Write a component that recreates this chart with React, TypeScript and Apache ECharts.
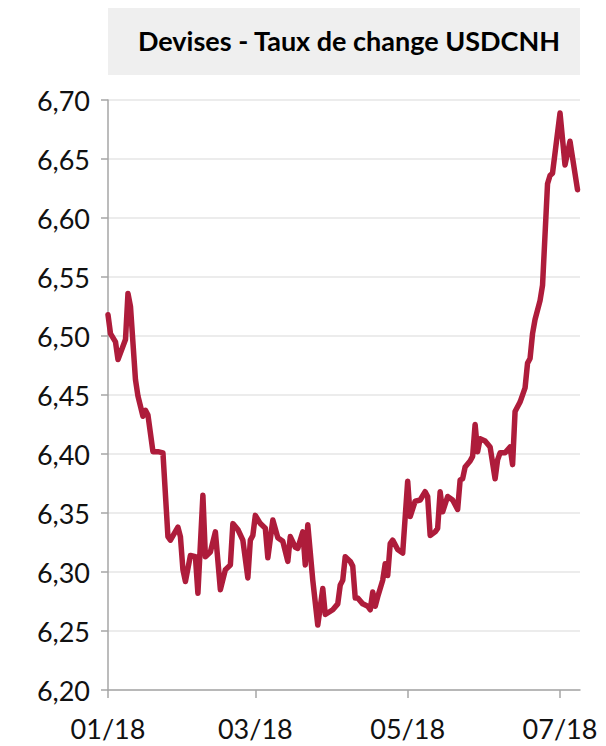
import React, { useEffect, useRef } from "react";
import * as echarts from "echarts";

const titleText = "Devises - Taux de change USDCNH";

const dates: string[] = [
  "2018-01-01", "2018-01-02", "2018-01-04", "2018-01-05", "2018-01-08", "2018-01-09", "2018-01-10",
  "2018-01-12", "2018-01-13", "2018-01-15", "2018-01-16", "2018-01-17", "2018-01-19", "2018-01-21",
  "2018-01-23", "2018-01-25", "2018-01-26", "2018-01-29", "2018-01-30", "2018-01-31", "2018-02-01",
  "2018-02-03", "2018-02-05", "2018-02-06", "2018-02-08", "2018-02-09", "2018-02-11", "2018-02-13",
  "2018-02-15", "2018-02-17", "2018-02-19", "2018-02-20", "2018-02-22", "2018-02-24", "2018-02-26",
  "2018-02-27", "2018-02-28", "2018-03-01", "2018-03-03", "2018-03-05", "2018-03-06", "2018-03-08",
  "2018-03-10", "2018-03-12", "2018-03-14", "2018-03-15", "2018-03-17", "2018-03-18", "2018-03-20",
  "2018-03-21", "2018-03-22", "2018-03-24", "2018-03-26", "2018-03-28", "2018-03-29", "2018-04-01",
  "2018-04-03", "2018-04-04", "2018-04-05", "2018-04-06", "2018-04-08", "2018-04-09", "2018-04-10",
  "2018-04-11", "2018-04-13", "2018-04-15", "2018-04-16", "2018-04-17", "2018-04-18", "2018-04-19",
  "2018-04-21", "2018-04-22", "2018-04-23", "2018-04-24", "2018-04-25", "2018-04-27", "2018-04-29",
  "2018-05-01", "2018-05-02", "2018-05-04", "2018-05-06", "2018-05-08", "2018-05-09", "2018-05-10",
  "2018-05-12", "2018-05-13", "2018-05-14", "2018-05-15", "2018-05-17", "2018-05-19", "2018-05-21",
  "2018-05-22", "2018-05-23", "2018-05-24", "2018-05-26", "2018-05-27", "2018-05-28", "2018-05-29",
  "2018-05-30", "2018-06-01", "2018-06-03", "2018-06-05", "2018-06-06", "2018-06-07", "2018-06-09",
  "2018-06-11", "2018-06-12", "2018-06-13", "2018-06-15", "2018-06-17", "2018-06-18", "2018-06-19",
  "2018-06-20", "2018-06-21", "2018-06-23", "2018-06-24", "2018-06-26", "2018-06-27", "2018-06-28",
  "2018-07-01", "2018-07-03", "2018-07-05", "2018-07-08",
];

const usdcnh: number[] = [
  6.518, 6.502, 6.495, 6.48, 6.497, 6.536, 6.525,
  6.463, 6.449, 6.432, 6.437, 6.433, 6.402, 6.402,
  6.401, 6.33, 6.327, 6.338, 6.33, 6.302, 6.292,
  6.314, 6.313, 6.282, 6.365, 6.313, 6.317, 6.334,
  6.285, 6.302, 6.306, 6.341, 6.336, 6.327, 6.295,
  6.327, 6.331, 6.348, 6.341, 6.337, 6.312, 6.344,
  6.329, 6.326, 6.309, 6.33, 6.321, 6.32, 6.334,
  6.306, 6.34, 6.293, 6.255, 6.286, 6.264, 6.268,
  6.273, 6.289, 6.293, 6.313, 6.309, 6.305, 6.278,
  6.278, 6.273, 6.271, 6.268, 6.283, 6.271, 6.279,
  6.293, 6.307, 6.297, 6.324, 6.327, 6.319, 6.316,
  6.377, 6.347, 6.36, 6.361, 6.368, 6.364, 6.331,
  6.334, 6.337, 6.368, 6.351, 6.364, 6.361, 6.353,
  6.378, 6.379, 6.389, 6.394, 6.398, 6.425, 6.402,
  6.413, 6.411, 6.406, 6.379, 6.395, 6.401, 6.401,
  6.406, 6.391, 6.436, 6.444, 6.456, 6.477, 6.481,
  6.502, 6.514, 6.53, 6.543, 6.629, 6.636, 6.638,
  6.689, 6.645, 6.665, 6.624,
];

const xTickDates: string[] = ["2018-01-01", "2018-03-01", "2018-05-01", "2018-07-01"];
const xMinDate = "2018-01-01";
const xMaxDate = "2018-07-09";
const yMin = 6.2;
const yMax = 6.7;
const yStep = 0.05;

function ts(s: string): number {
  const [y, m, d] = s.split("-").map(Number);
  return new Date(y, m - 1, d).getTime();
}

export default function App() {
  const ref = useRef<HTMLDivElement>(null);
  useEffect(() => {
    if (!ref.current) return;
    const chart = echarts.init(ref.current, null, { renderer: "svg" });
    const font = "Lato";
    const tickVals = xTickDates.map(ts);
    chart.setOption({
      animation: false,
      backgroundColor: "#ffffff",
      graphic: [
        {
          type: "rect",
          left: 108,
          top: 8,
          z: -10,
          shape: { width: 472, height: 67 },
          style: { fill: "#efefef" },
        },
      ],
      title: {
        text: titleText,
        left: 344,
        top: 22,
        textAlign: "center",
        textStyle: { fontFamily: font, fontWeight: "bold", fontSize: 27, color: "#000" },
      },
      grid: { left: 108, right: 26, top: 100, bottom: 56, containLabel: false },
      xAxis: {
        type: "value",
        min: ts(xMinDate),
        max: ts(xMaxDate),
        axisLine: { show: true, onZero: false, lineStyle: { color: "#a6a6a6", width: 1.5 } },
        axisTick: {
          show: true,
          length: 8,
          customValues: tickVals,
          lineStyle: { color: "#a6a6a6", width: 1.5 },
        },
        axisLabel: {
          customValues: tickVals,
          margin: 25,
          fontFamily: font,
          fontSize: 27,
          color: "#111",
          formatter: (v: number) => {
            const d = new Date(v);
            const mm = String(d.getMonth() + 1).padStart(2, "0");
            const yy = String(d.getFullYear() % 100).padStart(2, "0");
            return mm + "/" + yy;
          },
        },
        splitLine: { show: false },
      },
      yAxis: {
        type: "value",
        min: yMin,
        max: yMax,
        interval: yStep,
        axisLine: { show: true, lineStyle: { color: "#a6a6a6", width: 1.5 } },
        axisTick: { show: true, length: 7, lineStyle: { color: "#a6a6a6", width: 1.5 } },
        axisLabel: {
          margin: 18,
          fontFamily: font,
          fontSize: 27,
          color: "#111",
          formatter: (v: number) => v.toFixed(2).replace(".", ","),
        },
        splitLine: { show: true, lineStyle: { color: "#e6e6e6", width: 1.5 } },
      },
      series: [
        {
          type: "line",
          data: dates.map((d, i) => [ts(d), usdcnh[i]]),
          showSymbol: false,
          symbol: "none",
          lineStyle: { color: "#ae1c3b", width: 5.5, join: "round", cap: "round" },
          z: 5,
        },
      ],
    });
    return () => chart.dispose();
  }, []);
  return (
    <div
      ref={ref}
      style={{ position: "fixed", left: 0, top: 0, width: 606, height: 746 }}
    />
  );
}
